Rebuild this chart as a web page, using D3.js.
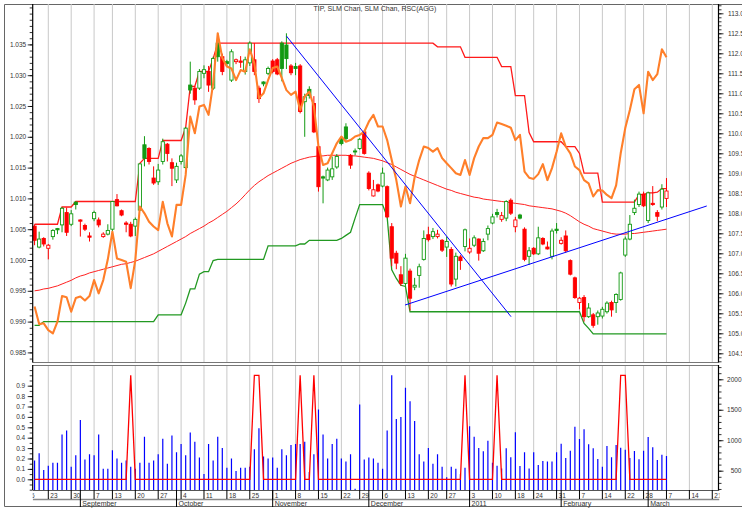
<!DOCTYPE html>
<html>
<head>
<meta charset="utf-8">
<script src="https://cdn.jsdelivr.net/npm/d3@7"></script>
<style>
  body { margin: 0; background: #fff; }
  svg { display: block; font-family: "Liberation Sans", Arial, sans-serif; }
  .num { font-size: 6.5px; fill: #333; }
  .mon { font-size: 7px; fill: #333; }
</style>
</head>
<body>
<div id="chart"></div>
<script>
// ---- data (one entry per trading day, starting 2010-08-18) ----
var holidays = ["2010-09-06", "2010-11-25", "2010-12-24", "2011-01-17", "2011-02-21"];
var dataStart = "2010-08-18";

var open = [
  1.0055, 1.0021, 1.0035, 1.0019, 1.0038, 1.0051, 1.0057, 1.0077, 1.0058, 1.0094,
  1.0065, 1.0056, 1.0039, 1.0067, 1.0065, 1.0038, 1.0042, 1.0050, 1.0098, 1.0080,
  1.0060, 1.0058, 1.0055, 1.0081, 1.0187, 1.0181, 1.0133, 1.0127, 1.0160, 1.0188,
  1.0158, 1.0130, 1.0160, 1.0150, 1.0284, 1.0279, 1.0279, 1.0303, 1.0306, 1.0279,
  1.0352, 1.0330, 1.0322, 1.0292, 1.0322, 1.0323, 1.0306, 1.0320, 1.0325, 1.0279,
  1.0289, 1.0303, 1.0323, 1.0325, 1.0352, 1.0349, 1.0315, 1.0314, 1.0315, 1.0257,
  1.0277, 1.0254, 1.0184, 1.0135, 1.0130, 1.0135, 1.0151, 1.0197, 1.0216, 1.0170,
  1.0177, 1.0181, 1.0208, 1.0141, 1.0104, 1.0122, 1.0120, 1.0119, 1.0054, 1.0011,
  0.9976, 0.9962, 0.9982, 0.9956, 0.9975, 1.0001, 1.0041, 1.0038, 1.0038, 1.0032,
  1.0021, 1.0017, 0.9969, 1.0005, 1.0022, 1.0013, 1.0024, 1.0034, 1.0015, 1.0042,
  1.0060, 1.0077, 1.0066, 1.0068, 1.0097, 1.0054, 1.0073, 1.0050, 1.0006, 1.0019,
  1.0010, 1.0035, 1.0021, 1.0006, 1.0050, 1.0027, 1.0039, 0.9999, 0.9971, 0.9931,
  0.9939, 0.9908, 0.9911, 0.9908, 0.9909, 0.9916, 0.9931, 0.9931, 0.9936, 1.0008,
  1.0034, 1.0077, 1.0090, 1.0107, 1.0064, 1.0092, 1.0077, 1.0086, 1.0100
];
var high = [
  1.0058, 1.0046, 1.0037, 1.0026, 1.0050, 1.0052, 1.0086, 1.0085, 1.0081, 1.0095,
  1.0066, 1.0059, 1.0045, 1.0080, 1.0069, 1.0045, 1.0058, 1.0095, 1.0107, 1.0082,
  1.0063, 1.0062, 1.0069, 1.0157, 1.0201, 1.0183, 1.0152, 1.0156, 1.0197, 1.0190,
  1.0165, 1.0158, 1.0172, 1.0216, 1.0322, 1.0282, 1.0310, 1.0316, 1.0315, 1.0330,
  1.0368, 1.0335, 1.0325, 1.0342, 1.0327, 1.0331, 1.0330, 1.0355, 1.0352, 1.0283,
  1.0290, 1.0314, 1.0326, 1.0328, 1.0355, 1.0368, 1.0318, 1.0320, 1.0318, 1.0270,
  1.0282, 1.0266, 1.0186, 1.0137, 1.0150, 1.0168, 1.0172, 1.0200, 1.0222, 1.0172,
  1.0181, 1.0198, 1.0211, 1.0144, 1.0130, 1.0124, 1.0150, 1.0121, 1.0060, 1.0015,
  0.9990, 1.0010, 0.9986, 0.9971, 0.9994, 1.0048, 1.0054, 1.0052, 1.0049, 1.0034,
  1.0038, 1.0021, 1.0012, 1.0008, 1.0051, 1.0035, 1.0040, 1.0035, 1.0035, 1.0056,
  1.0075, 1.0083, 1.0078, 1.0097, 1.0100, 1.0070, 1.0075, 1.0053, 1.0021, 1.0021,
  1.0054, 1.0037, 1.0030, 1.0051, 1.0060, 1.0037, 1.0048, 1.0001, 0.9973, 0.9940,
  0.9943, 0.9930, 0.9914, 0.9918, 0.9924, 0.9933, 0.9934, 0.9946, 0.9981, 1.0038,
  1.0073, 1.0098, 1.0111, 1.0111, 1.0111, 1.0120, 1.0081, 1.0123, 1.0133
];
var low = [
  1.0024, 1.0019, 1.0022, 1.0001, 1.0033, 1.0042, 1.0045, 1.0039, 1.0055, 1.0082,
  1.0038, 1.0047, 1.0030, 1.0063, 1.0053, 1.0036, 1.0040, 1.0045, 1.0087, 1.0071,
  1.0045, 1.0037, 1.0039, 1.0080, 1.0152, 1.0155, 1.0122, 1.0122, 1.0155, 1.0160,
  1.0120, 1.0125, 1.0155, 1.0148, 1.0270, 1.0252, 1.0276, 1.0295, 1.0273, 1.0276,
  1.0322, 1.0300, 1.0315, 1.0289, 1.0318, 1.0312, 1.0301, 1.0315, 1.0300, 1.0255,
  1.0282, 1.0300, 1.0303, 1.0300, 1.0290, 1.0310, 1.0300, 1.0300, 1.0238, 1.0200,
  1.0262, 1.0206, 1.0111, 1.0092, 1.0128, 1.0130, 1.0148, 1.0186, 1.0192, 1.0148,
  1.0170, 1.0179, 1.0171, 1.0113, 1.0103, 1.0110, 1.0118, 1.0068, 0.9990, 0.9985,
  0.9958, 0.9958, 0.9918, 0.9951, 0.9955, 0.9999, 1.0030, 1.0034, 1.0035, 1.0013,
  1.0005, 0.9957, 0.9957, 0.9984, 1.0014, 1.0010, 1.0021, 0.9999, 1.0013, 1.0032,
  1.0058, 1.0069, 1.0062, 1.0063, 1.0073, 1.0045, 1.0066, 0.9998, 0.9992, 1.0008,
  1.0008, 1.0024, 1.0017, 1.0001, 1.0043, 1.0025, 1.0012, 0.9975, 0.9937, 0.9920,
  0.9900, 0.9906, 0.9890, 0.9895, 0.9905, 0.9913, 0.9908, 0.9914, 0.9934, 1.0005,
  1.0032, 1.0073, 1.0086, 1.0086, 1.0060, 1.0088, 1.0063, 1.0082, 1.0086
];
var close = [
  1.0032, 1.0034, 1.0026, 1.0024, 1.0048, 1.0049, 1.0084, 1.0045, 1.0075, 1.0090,
  1.0063, 1.0050, 1.0037, 1.0077, 1.0057, 1.0042, 1.0048, 1.0095, 1.0088, 1.0073,
  1.0058, 1.0039, 1.0066, 1.0156, 1.0165, 1.0160, 1.0125, 1.0146, 1.0192, 1.0173,
  1.0149, 1.0152, 1.0169, 1.0214, 1.0276, 1.0260, 1.0306, 1.0309, 1.0284, 1.0327,
  1.0330, 1.0306, 1.0319, 1.0338, 1.0325, 1.0321, 1.0325, 1.0352, 1.0306, 1.0262,
  1.0286, 1.0311, 1.0306, 1.0302, 1.0311, 1.0327, 1.0304, 1.0311, 1.0241, 1.0265,
  1.0267, 1.0208, 1.0119, 1.0133, 1.0146, 1.0148, 1.0168, 1.0189, 1.0197, 1.0154,
  1.0176, 1.0196, 1.0173, 1.0116, 1.0114, 1.0112, 1.0141, 1.0070, 1.0003, 0.9995,
  0.9962, 1.0003, 0.9938, 0.9959, 0.9989, 1.0035, 1.0033, 1.0046, 1.0042, 1.0016,
  1.0030, 0.9961, 1.0006, 0.9999, 1.0049, 1.0019, 1.0036, 1.0011, 1.0030, 1.0051,
  1.0070, 1.0074, 1.0072, 1.0095, 1.0076, 1.0065, 1.0068, 1.0001, 1.0015, 1.0010,
  1.0036, 1.0026, 1.0018, 1.0047, 1.0048, 1.0032, 1.0015, 0.9977, 0.9939, 0.9938,
  0.9908, 0.9922, 0.9894, 0.9914, 0.9920, 0.9930, 0.9919, 0.9944, 0.9979, 1.0034,
  1.0058, 1.0084, 1.0107, 1.0088, 1.0109, 1.0090, 1.0071, 1.0115, 1.0112
];

// SLM channel corners: trading-day number (0 = first candle) and level
var chanHiDay = [0, 5, 6, 8, 9, 22, 23, 24, 27, 28, 32, 33, 34, 35, 36, 38, 39, 40, 87, 88, 93, 94,
  101, 102, 104, 105, 107, 108, 109, 115, 116, 118, 119, 120, 123, 124, 131, 132, 133, 134, 135, 136, 137, 138];
var chanHiVal = [1.0058, 1.0058, 1.0086, 1.0086, 1.0095, 1.0095, 1.0157, 1.0165, 1.0165, 1.0194, 1.0194,
  1.0215, 1.0282, 1.0282, 1.0306, 1.0306, 1.0327, 1.0352, 1.0352, 1.0346, 1.0346, 1.0329,
  1.0329, 1.0314, 1.0314, 1.0267, 1.0267, 1.0207, 1.0192, 1.0192, 1.0184, 1.0184, 1.0173, 1.0141,
  1.0141, 1.0094, 1.0094, 1.0106, 1.0106, 1.0109, 1.0109, 1.0110, 1.0116, 1.0116];
var chanLoDay = [0, 1, 2, 26, 27, 32, 33, 34, 35, 36, 37, 38, 39, 40, 50, 51, 57, 58, 59, 60, 66, 67,
  68, 69, 70, 71, 76, 77, 78, 79, 80, 81, 82, 119, 120, 121, 122, 138];
var chanLoVal = [0.9894, 0.9894, 0.9900, 0.9900, 0.9911, 0.9911, 0.9930, 0.9953, 0.9953, 0.9977, 0.9981,
  0.9981, 0.9999, 1.0001, 1.0001, 1.0023, 1.0023, 1.0026, 1.0026, 1.0032, 1.0032, 1.0035,
  1.0040, 1.0045, 1.0068, 1.0090, 1.0090, 1.0070, 0.9984, 0.9970, 0.9959, 0.9957, 0.9916,
  0.9916, 0.9897, 0.9889, 0.9880, 0.9880];

var maVals = [
  0.9950, 0.9951, 0.9953, 0.9954, 0.9956, 0.9958, 0.9961, 0.9964, 0.9967, 0.9971,
  0.9974, 0.9976, 0.9979, 0.9981, 0.9983, 0.9985, 0.9987, 0.9989, 0.9991, 0.9993,
  0.9994, 0.9996, 0.9998, 1.0001, 1.0004, 1.0007, 1.0010, 1.0014, 1.0018, 1.0022,
  1.0026, 1.0030, 1.0034, 1.0038, 1.0043, 1.0047, 1.0051, 1.0055, 1.0060, 1.0064,
  1.0069, 1.0074, 1.0079, 1.0085, 1.0091, 1.0098, 1.0106, 1.0114, 1.0121, 1.0127,
  1.0132, 1.0137, 1.0141, 1.0145, 1.0149, 1.0153, 1.0157, 1.0160, 1.0163, 1.0165,
  1.0167, 1.0168, 1.0169, 1.0169, 1.0170, 1.0170, 1.0170, 1.0170, 1.0170, 1.0169,
  1.0169, 1.0168, 1.0167, 1.0166, 1.0165, 1.0163, 1.0161, 1.0158, 1.0155, 1.0151,
  1.0147, 1.0143, 1.0139, 1.0136, 1.0133, 1.0130, 1.0127, 1.0124, 1.0121, 1.0118,
  1.0115, 1.0113, 1.0110, 1.0108, 1.0106, 1.0104, 1.0102, 1.0101, 1.0099, 1.0098,
  1.0097, 1.0096, 1.0095, 1.0094, 1.0093, 1.0092, 1.0091, 1.0090, 1.0088, 1.0087,
  1.0086, 1.0085, 1.0084, 1.0083, 1.0081, 1.0079, 1.0076, 1.0072, 1.0067, 1.0062,
  1.0058, 1.0055, 1.0051, 1.0049, 1.0047, 1.0045, 1.0043, 1.0042, 1.0042, 1.0042,
  1.0043, 1.0043, 1.0044, 1.0045, 1.0046, 1.0047, 1.0048, 1.0049, 1.0050
];

// RSC(AGG) on the right axis
var rscVals = [
  105.67, 105.23, 105.25, 105.08, 105.00, 105.29, 105.93, 105.90, 105.54, 105.88,
  105.92, 105.82, 105.93, 106.33, 106.00, 106.33, 106.85, 107.54, 106.87, 106.83,
  106.79, 106.13, 106.83, 108.17, 108.00, 107.79, 107.67, 107.58, 108.29, 107.75,
  107.42, 108.21, 108.21, 108.96, 110.42, 110.00, 110.67, 110.71, 110.46, 111.25,
  112.50, 111.88, 111.67, 111.62, 111.33, 111.58, 111.54, 112.10, 111.75, 110.88,
  111.00, 111.33, 111.63, 111.67, 111.38, 111.08, 110.96, 111.04, 110.58, 110.92,
  111.04, 110.67, 109.67, 109.21, 109.25, 109.50, 109.75, 109.92, 109.79, 109.83,
  109.92, 109.96, 110.04, 110.29, 110.46, 110.17, 110.17, 109.83, 109.33, 108.83,
  108.17, 108.67, 108.25, 108.90, 109.33, 109.67, 109.63, 109.54, 109.63, 109.38,
  109.25, 109.13, 109.00, 108.96, 109.33, 108.96, 109.38, 109.67, 109.88, 109.88,
  109.96, 110.27, 110.23, 110.19, 110.14, 109.83, 109.96, 109.04, 108.89, 108.86,
  108.98, 109.23, 108.83, 109.13, 109.54, 110.00, 109.67, 109.50, 109.17, 109.08,
  108.83, 108.75, 108.42, 108.58, 108.57, 108.46, 108.38, 108.70, 109.50, 110.13,
  110.58, 111.10, 111.21, 110.50, 111.54, 111.33, 111.48, 112.10, 111.90
];

var volume = [
  666, 786, 513, 581, 632, 632, 1093, 1161, 564, 752,
  1332, 683, 769, 752, 1093, 530, 530, 837, 700, 632,
  666, 564, 530, 632, 1059, 632, 666, 769, 1025, 615,
  1076, 803, 939, 752, 1127, 974, 717, 444, 939, 666,
  1059, 871, 547, 700, 496, 547, 547, 564, 854, 1195,
  735, 700, 717, 547, 854, 752, 922, 939, 939, 974,
  478, 769, 1503, 1093, 700, 939, 1025, 700, 649, 769,
  205, 1588, 683, 717, 700, 632, 530, 1161, 2066, 1349,
  1383, 1861, 1639, 1315, 769, 649, 871, 615, 769, 564,
  393, 564, 530, 444, 547, 1230, 1059, 871, 820, 991,
  632, 581, 538, 867, 719, 1130, 577, 801, 538, 801,
  593, 659, 653, 653, 801, 943, 708, 828, 1223, 1020,
  1179, 932, 867, 692, 566, 905, 719, 921, 878, 845,
  708, 823, 686, 828, 1053, 883, 675, 763, 741
];

var signal = [
  0, 0, 0, 0, 0, 0, 0, 0, 0, 0,
  0, 0, 0, 0, 0, 0, 0, 0, 0, 0,
  0, 1, 0, 0, 0, 0, 0, 0, 0, 0,
  0, 0, 0, 0, 0, 0, 0, 0, 0, 0,
  0, 0, 0, 0, 0, 0, 0, 0, 1, 1,
  0, 0, 0, 0, 0, 0, 0, 0, 1, 0,
  0, 1, 0, 0, 0, 0, 0, 0, 0, 0,
  0, 0, 0, 0, 0, 0, 0, 0, 0, 0,
  0, 0, 0, 0, 0, 0, 0, 0, 0, 0,
  0, 0, 0, 0, 1, 0, 0, 0, 0, 0,
  0, 1, 0, 0, 0, 0, 0, 0, 0, 0,
  0, 0, 0, 0, 0, 0, 0, 0, 0, 0,
  0, 0, 0, 0, 0, 0, 0, 0, 1, 1,
  0, 0, 0, 0, 0, 0, 0, 0, 0
];

// trend lines: [start, end] trading day and price
var trendDay = [[55, 104.05], [80.9, 146.8]];
var trendVal = [[1.03636, 0.9908], [0.99269, 1.00877]];

var priceTicks = [0.985, 0.990, 0.995, 1.000, 1.005, 1.010, 1.015, 1.020, 1.025, 1.030, 1.035];
var rscTicks = [104.5, 105.0, 105.5, 106.0, 106.5, 107.0, 107.5, 108.0, 108.5, 109.0,
  109.5, 110.0, 110.5, 111.0, 111.5, 112.0, 112.5, 113.0];
var sigTicks = [0.0, 0.1, 0.2, 0.3, 0.4, 0.5, 0.6, 0.7, 0.8, 0.9];
var volTicks = [500, 1000, 1500, 2000];
var monthNames = ["January", "February", "March", "April", "May", "June", "July",
  "August", "September", "October", "November", "December"];

// ---- layout ----
var width = 742, height = 508;
var left = 32.7, right = 718.5;
var topY = 4, topB = 362, botT = 365, botB = 490;

var svg = d3.select("#chart").append("svg")
  .attr("width", width)
  .attr("height", height);

// trading calendar
var fmt = d3.timeFormat("%Y-%m-%d");
var allDays = d3.timeDay.range(new Date(2010, 7, 16), new Date(2011, 2, 26))
  .filter(d => d.getDay() % 6 !== 0 && holidays.indexOf(fmt(d)) < 0);
var offset = allDays.findIndex(d => fmt(d) === dataStart);

var x = d3.scaleLinear().domain([-0.407, 149.36]).range([left, right]);
var yP = d3.scaleLinear().domain([0.983442, 1.041558]).range([topB, topY]);
var yR = d3.scaleLinear().domain([104.2825, 113.2325]).range([topB, topY]);
var yS = d3.scaleLinear().domain([-0.1029, 1.099]).range([botB, botT]);
var yV = d3.scaleLinear().domain([183.3, 2234.5]).range([botB, botT]);

var weekStarts = [], monthStarts = [];
allDays.forEach(function(d, i) {
  if (i === 0 || d3.timeMonday.floor(d) > allDays[i - 1]) weekStarts.push({ t: i - offset, d: d });
  if (i > 0 && d.getMonth() !== allDays[i - 1].getMonth()) monthStarts.push({ t: i - offset, d: d });
});

var defs = svg.append("defs");
defs.append("clipPath").attr("id", "clipTop").append("rect")
  .attr("x", left).attr("y", topY).attr("width", right - left).attr("height", topB - topY);
defs.append("clipPath").attr("id", "clipBot").append("rect")
  .attr("x", left).attr("y", botT).attr("width", right - left).attr("height", botB - botT);
defs.append("clipPath").attr("id", "clipAxis").append("rect")
  .attr("x", left).attr("y", botB).attr("width", right - left + 1).attr("height", 18);

// outer frame
svg.append("path")
  .attr("d", "M742,4.5H4.5V506.5H742")
  .attr("fill", "none").attr("stroke", "#666").attr("stroke-width", 1);

// gridlines
var grid = svg.append("g");
weekStarts.filter(w => x(w.t) > left + 1 && x(w.t) < right - 1).forEach(function(w) {
  grid.append("line").attr("x1", x(w.t)).attr("x2", x(w.t)).attr("y1", topY).attr("y2", topB)
    .attr("stroke", "#c8c8c8").attr("stroke-width", 1);
  grid.append("line").attr("x1", x(w.t)).attr("x2", x(w.t)).attr("y1", botT).attr("y2", botB)
    .attr("stroke", "#c8c8c8").attr("stroke-width", 1);
});

// ---- top panel ----
var plot = svg.append("g").attr("clip-path", "url(#clipTop)");

var chanLine = d3.line().x(d => x(d[0])).y(d => yP(d[1]));
plot.append("path")
  .attr("d", chanLine(d3.zip(chanHiDay, chanHiVal)))
  .attr("fill", "none").attr("stroke", "#ff1a1a").attr("stroke-width", 1.3);
plot.append("path")
  .attr("d", chanLine(d3.zip(chanLoDay, chanLoVal)))
  .attr("fill", "none").attr("stroke", "#229922").attr("stroke-width", 1.3);

var dayLine = function(scale) {
  return d3.line().x((d, i) => x(i)).y(d => scale(d));
};
plot.append("path")
  .attr("d", dayLine(yP)(maVals))
  .attr("fill", "none").attr("stroke", "#ff2020").attr("stroke-width", 1);

// candles
var green = "#139a13", red = "#ff0000";
function candleColor(i) {
  if (i === 0) return close[i] >= open[i] ? green : red;
  return close[i] >= close[i - 1] ? green : red;
}
var candles = plot.selectAll("g.candle")
  .data(d3.range(open.length))
  .enter().append("g").attr("class", "candle");
candles.append("line")
  .attr("x1", i => x(i)).attr("x2", i => x(i))
  .attr("y1", i => yP(high[i])).attr("y2", i => yP(low[i]))
  .attr("stroke", candleColor).attr("stroke-width", 1);
candles.append("rect")
  .attr("x", i => x(i) - 1.6)
  .attr("width", 3.2)
  .attr("y", i => yP(Math.max(open[i], close[i])))
  .attr("height", i => Math.max(1, Math.abs(yP(open[i]) - yP(close[i]))))
  .attr("fill", i => close[i] > open[i] ? "#fff" : candleColor(i))
  .attr("stroke", candleColor).attr("stroke-width", 0.9);

plot.append("path")
  .attr("d", dayLine(yR)(rscVals))
  .attr("fill", "none").attr("stroke", "#ff7f2a").attr("stroke-width", 2.1)
  .attr("stroke-linejoin", "round");

trendDay.forEach(function(td, k) {
  plot.append("line")
    .attr("x1", x(td[0])).attr("x2", x(td[1]))
    .attr("y1", yP(trendVal[k][0])).attr("y2", yP(trendVal[k][1]))
    .attr("stroke", "#0000ff").attr("stroke-width", 1);
});

svg.append("text").attr("class", "mon")
  .attr("x", 375).attr("y", 11).attr("text-anchor", "middle").attr("fill", "#444")
  .text("TIP, SLM Chan, SLM Chan, RSC(AGG)");

// ---- bottom panel ----
var bot = svg.append("g").attr("clip-path", "url(#clipBot)");
bot.selectAll("line.vol")
  .data(volume)
  .enter().append("line").attr("class", "vol")
  .attr("x1", (d, i) => x(i)).attr("x2", (d, i) => x(i))
  .attr("y1", botB).attr("y2", d => yV(d))
  .attr("stroke", "#0000ff").attr("stroke-width", 1.2);
bot.append("path")
  .attr("d", dayLine(yS)(signal))
  .attr("fill", "none").attr("stroke", "#ff0000").attr("stroke-width", 1.3);

// ---- axes ----
function styleAxis(g) {
  g.select(".domain").remove();
  g.selectAll(".tick line").attr("stroke", "#000").attr("stroke-width", 0.8);
  g.selectAll(".tick text").attr("class", "num").attr("font-size", null).attr("font-family", null);
}
function minor(scale, step, lo, hi) {
  return d3.range(Math.round(lo / step), Math.round(hi / step) + 1).map(k => +(k * step).toFixed(6))
    .filter(v => scale(v) >= scale.range()[1] && scale(v) <= scale.range()[0]);
}

// price (left, top)
svg.append("g").attr("transform", `translate(${left},0)`)
  .call(d3.axisLeft(yP).tickValues(minor(yP, 0.001, 0.983, 1.042)).tickSize(3).tickFormat(""))
  .call(styleAxis);
svg.append("g").attr("transform", `translate(${left},0)`)
  .call(d3.axisLeft(yP).tickValues(priceTicks).tickSize(5).tickPadding(1.5).tickFormat(d3.format(".3f")))
  .call(styleAxis);

// RSC (right, top)
svg.append("g").attr("transform", `translate(${right},0)`)
  .call(d3.axisRight(yR).tickValues(minor(yR, 0.1, 104.2, 113.3)).tickSize(3).tickFormat(""))
  .call(styleAxis);
svg.append("g").attr("transform", `translate(${right},0)`)
  .call(d3.axisRight(yR).tickValues(rscTicks).tickSize(5).tickPadding(4.5).tickFormat(d3.format(".1f")))
  .call(styleAxis);

// signal (left, bottom)
svg.append("g").attr("transform", `translate(${left},0)`)
  .call(d3.axisLeft(yS).tickValues(minor(yS, 0.05, -0.1, 1.1)).tickSize(3).tickFormat(""))
  .call(styleAxis);
svg.append("g").attr("transform", `translate(${left},0)`)
  .call(d3.axisLeft(yS).tickValues(sigTicks).tickSize(5).tickPadding(2.5).tickFormat(d3.format(".1f")))
  .call(styleAxis);

// volume (right, bottom)
svg.append("g").attr("transform", `translate(${right},0)`)
  .call(d3.axisRight(yV).tickValues(minor(yV, 100, 200, 2200)).tickSize(3).tickFormat(""))
  .call(styleAxis);
var va = svg.append("g").attr("transform", `translate(${right},0)`)
  .call(d3.axisRight(yV).tickValues(volTicks).tickSize(5).tickFormat(d3.format("d")))
  .call(styleAxis);
va.selectAll(".tick text").attr("x", width - right - 0.5).attr("text-anchor", "end");

// panel borders
var frame = svg.append("g").attr("fill", "none");
frame.append("line").attr("x1", left).attr("x2", right).attr("y1", topB + 0.5).attr("y2", topB + 0.5).attr("stroke", "#777");
frame.append("line").attr("x1", left).attr("x2", right).attr("y1", botT + 0.5).attr("y2", botT + 0.5).attr("stroke", "#777");
[left, right].forEach(function(px) {
  frame.append("line").attr("x1", px).attr("x2", px).attr("y1", topY).attr("y2", topB + 0.5).attr("stroke", "#000").attr("stroke-width", 1.2);
  frame.append("line").attr("x1", px).attr("x2", px).attr("y1", botT).attr("y2", botB).attr("stroke", "#000").attr("stroke-width", 1.2);
});

// date axis rows
var dax = svg.append("g").attr("clip-path", "url(#clipAxis)");
dax.append("line").attr("x1", left).attr("x2", right + 1).attr("y1", botB + 0.5).attr("y2", botB + 0.5)
  .attr("stroke", "#555").attr("stroke-width", 1);
dax.append("line").attr("x1", left).attr("x2", right + 1).attr("y1", 499.5).attr("y2", 499.5)
  .attr("stroke", "#888").attr("stroke-width", 1.5);
weekStarts.forEach(function(w) {
  dax.append("line").attr("x1", x(w.t)).attr("x2", x(w.t)).attr("y1", botB).attr("y2", 499)
    .attr("stroke", "#000").attr("stroke-width", 1);
  dax.append("text").attr("class", "num").attr("x", x(w.t) + 2).attr("y", 497.5)
    .text(w.d.getDate());
});
monthStarts.forEach(function(m) {
  dax.append("line").attr("x1", x(m.t)).attr("x2", x(m.t)).attr("y1", botB).attr("y2", 507)
    .attr("stroke", "#000").attr("stroke-width", 1);
  dax.append("text").attr("class", "mon").attr("x", x(m.t) + 2).attr("y", 505.5)
    .text(m.d.getMonth() === 0 ? m.d.getFullYear() : monthNames[m.d.getMonth()]);
});
</script>
</body>
</html>
